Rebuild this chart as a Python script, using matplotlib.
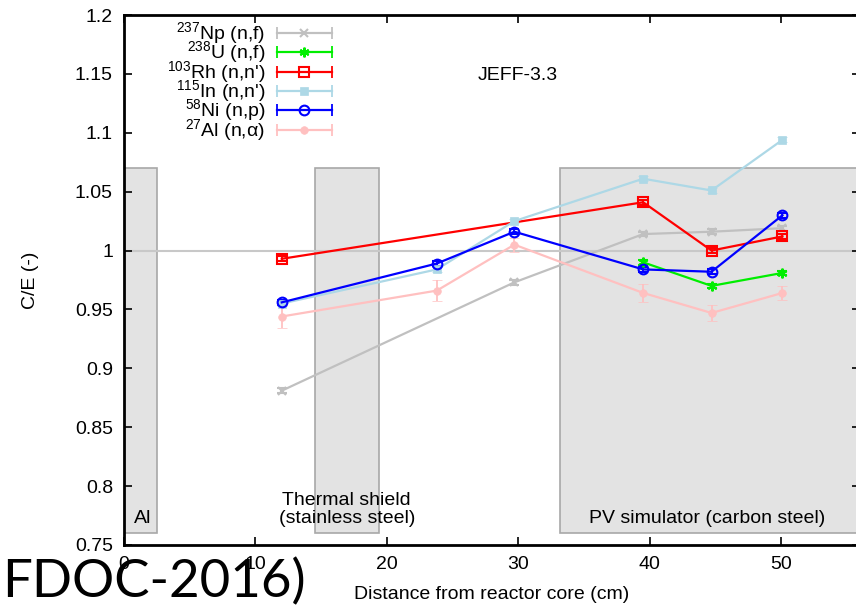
import numpy as np
import matplotlib.pyplot as plt
from matplotlib.ticker import FormatStrFormatter, MultipleLocator
from matplotlib.patches import Rectangle

plt.rcParams['font.family'] = ['Liberation Sans', 'DejaVu Sans']
plt.rcParams['mathtext.fontset'] = 'custom'
plt.rcParams['mathtext.rm'] = 'Liberation Sans'
plt.rcParams['mathtext.it'] = 'Liberation Sans:italic'

# distances of the dosimeter positions (cm)
dist = [12.0, 23.8, 29.7, 39.5, 44.7, 50.1]

# C/E per reaction (None = not measured at that position)
np237 = [0.881, None, 0.973, 1.014, 1.016, 1.019]
np237_err = [0.002, None, 0.002, 0.002, 0.002, 0.002]
u238 = [None, None, None, 0.990, 0.970, 0.981]
u238_err = [None, None, None, 0.002, 0.002, 0.002]
rh103 = [0.993, None, None, 1.041, 1.000, 1.012]
rh103_err = [0.002, None, None, 0.002, 0.002, 0.002]
in115 = [0.955, 0.984, 1.025, 1.061, 1.051, 1.094]
in115_err = [0.002, 0.002, 0.002, 0.002, 0.002, 0.002]
ni58 = [0.956, 0.989, 1.016, 0.984, 0.982, 1.030]
ni58_err = [0.002, 0.002, 0.002, 0.002, 0.002, 0.002]
al27 = [0.944, 0.966, 1.005, 0.964, 0.947, 0.964]
al27_err = [0.010, 0.009, 0.006, 0.008, 0.007, 0.006]

labels = ['$^{237}$Np (n,f)', '$^{238}$U (n,f)', '$^{103}$Rh (n,n\')',
          '$^{115}$In (n,n\')', '$^{58}$Ni (n,p)', '$^{27}$Al (n,\u03b1)']
values = [np237, u238, rh103, in115, ni58, al27]
errors = [np237_err, u238_err, rh103_err, in115_err, ni58_err, al27_err]
colors = ['#c0c0c0', '#00ee00', '#ff0000', '#add8e6', '#0000ff', '#ffc0c0']
markers = ['x', (6, 2, 0), 's', 's', 'o', 'o']
filled = [True, True, False, True, False, True]
msizes = [6, 7, 6.5, 5.5, 7, 5.5]
mews = [1.5, 1.5, 1.5, 0.5, 1.5, 0.5]

# material regions (x range) drawn as grey boxes
regions = [(0.0, 2.5, 'Al', 1.45), (14.5, 19.4, 'Thermal shield\n(stainless steel)', 16.95),
           (33.2, 60.0, 'PV simulator (carbon steel)', 44.4)]

fig = plt.figure(figsize=(8.56, 6.05), dpi=100)
ax = fig.add_axes([0.1449, 0.0992, 0.8598, 0.876])
ax.set_xlim(0, 56)
ax.set_ylim(0.75, 1.2)

for x0, x1, name, xt in regions:
    ax.add_patch(Rectangle((x0, 0.76), x1 - x0, 0.31, facecolor='#e3e3e3',
                           edgecolor='#a8a8a8', lw=1.2, zorder=1))
    ax.text(xt, 0.765, name, ha='center', va='bottom', fontsize=14,
            linespacing=1.1, zorder=2)

ax.axhline(1.0, color='#c8c8c8', lw=1.5, zorder=1.5)

for y, e, c, m, f, ms, mw in zip(values, errors, colors, markers, filled, msizes, mews):
    xs = [d for d, v in zip(dist, y) if v is not None]
    ys = [v for v in y if v is not None]
    es = [v for v in e if v is not None]
    ax.errorbar(xs, ys, yerr=es, color=c, marker=m, ms=ms, lw=1.6,
                mew=mw, mfc=c if f else 'none', capsize=3.5, elinewidth=1.3,
                zorder=3)

# key in the top-left corner, text right-aligned like the gnuplot key
key_y = [0.966, 0.930, 0.892, 0.857, 0.821, 0.783]
for ky, lab, c, m, f, ms, mw in zip(key_y, labels, colors, markers, filled, msizes, mews):
    ax.text(0.192, ky, lab, transform=ax.transAxes, ha='right', va='center',
            fontsize=14)
    ax.plot([0.208, 0.283], [ky, ky], color=c, lw=1.6, transform=ax.transAxes)
    ax.plot([0.208, 0.283], [ky, ky], ls='none', marker='|', ms=8, mew=1.3,
            color=c, transform=ax.transAxes)
    ax.plot([0.245], [ky], ls='none', marker=m, ms=ms, mew=mw, color=c,
            mfc=c if f else 'none', transform=ax.transAxes)

ax.text(0.535, 0.885, 'JEFF-3.3', transform=ax.transAxes, ha='center',
        va='center', fontsize=14)

ax.xaxis.set_major_locator(MultipleLocator(10))
ax.yaxis.set_major_locator(MultipleLocator(0.05))
ax.yaxis.set_major_formatter(FormatStrFormatter('%g'))
ax.tick_params(direction='in', length=6, width=1.2, labelsize=14,
               top=True, right=True, pad=8)
for s in ax.spines.values():
    s.set_linewidth(2)
ax.set_xlabel('Distance from reactor core (cm)', fontsize=14, labelpad=9)
ax.set_ylabel('C/E (-)', fontsize=14, labelpad=26)

fig.text(0.002, 0.013, 'FDOC-2016)', fontsize=38,
         family=['Lato', 'DejaVu Sans'],
         ha='left', va='baseline', color='black', zorder=10)

fig.savefig('out.png', dpi=100)
